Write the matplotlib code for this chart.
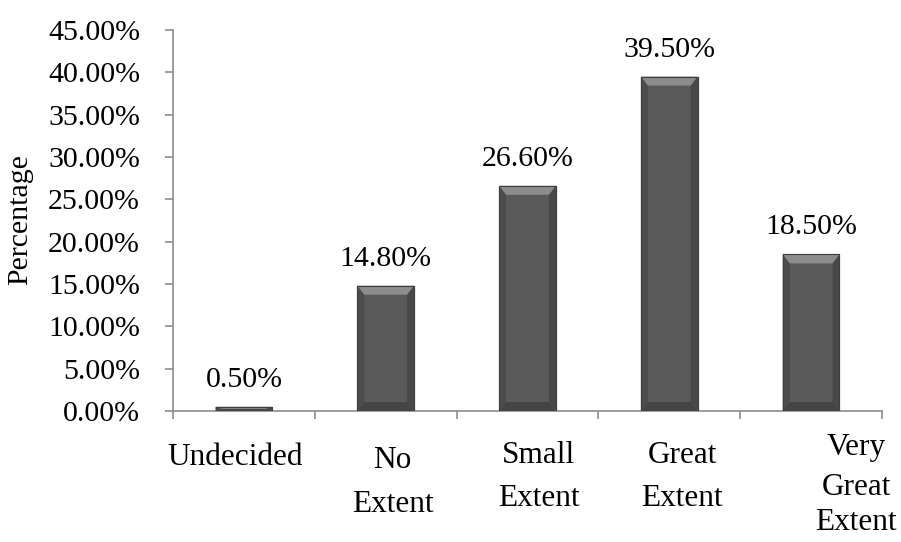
import matplotlib
matplotlib.use("Agg")
import matplotlib.pyplot as plt
import matplotlib.transforms as mtransforms
from matplotlib.patches import Polygon

categories = ["Undecided", "No\nExtent", "Small\nExtent", "Great\nExtent", "Very\nGreat\nExtent"]
values = [0.5, 14.8, 26.6, 39.5, 18.5]
value_labels = ["0.50%", "14.80%", "26.60%", "39.50%", "18.50%"]
yticks = [0, 5, 10, 15, 20, 25, 30, 35, 40, 45]
ytick_labels = ["%.2f%%" % t for t in yticks]

# label layout (pixels): horizontal shift from bar centre, baselines from top of figure
label_dx_px = [-9, 7, 11, 13, 45]
label_baselines_px = [[465], [468, 512], [463, 506], [463, 506], [455, 495, 530]]

W, H, DPI = 901, 542, 100
plt.rcParams["font.family"] = ["Liberation Serif", "DejaVu Serif"]

fig = plt.figure(figsize=(W / DPI, H / DPI), dpi=DPI)
ax = fig.add_axes([173 / W, 1 - 411 / H, (882 - 173) / W, (411 - 30) / H])

x = list(range(len(values)))
bars = ax.bar(x, values, width=0.4, color="#5a5a5a", edgecolor="#3e3e3e",
              linewidth=0.8, zorder=2)

ax.set_xlim(-0.5, len(values) - 0.5)
ax.set_ylim(0, 45)

# bevel shading on each bar
px_per_x = (882 - 173) / len(values)
px_per_y = (411 - 30) / 45.0
for b in bars:
    x0, w, h = b.get_x(), b.get_width(), b.get_height()
    x1, y1 = x0 + w, h
    dy = min(9 / px_per_y, h / 2)
    dx = min(7 / px_per_x, w / 2)
    top = Polygon([(x0, y1), (x1, y1), (x1 - dx, y1 - dy), (x0 + dx, y1 - dy)],
                  closed=True, facecolor="#8c8c8c", edgecolor="none", zorder=3)
    left = Polygon([(x0, 0), (x0, y1), (x0 + dx, y1 - dy), (x0 + dx, min(dy, h / 2))],
                   closed=True, facecolor="#4c4c4c", edgecolor="none", zorder=3)
    right = Polygon([(x1, 0), (x1, y1), (x1 - dx, y1 - dy), (x1 - dx, min(dy, h / 2))],
                    closed=True, facecolor="#484848", edgecolor="none", zorder=3)
    bottom = Polygon([(x0, 0), (x1, 0), (x1 - dx, min(dy, h / 2)), (x0 + dx, min(dy, h / 2))],
                     closed=True, facecolor="#444444", edgecolor="none", zorder=3)
    for p in (left, right, bottom, top):
        ax.add_patch(p)
    ax.add_patch(Polygon([(x0, 0), (x0, y1), (x1, y1), (x1, 0)], closed=True,
                         facecolor="none", edgecolor="#3e3e3e", linewidth=0.8, zorder=4))

# value labels above bars
for b, lab in zip(bars, value_labels):
    ax.annotate(lab, (b.get_x() + b.get_width() / 2, b.get_height()),
                xytext=(0, 20 * 72 / DPI), textcoords="offset points",
                ha="center", va="baseline", fontsize=21.5, color="black")

# axes styling
for s in ("top", "right"):
    ax.spines[s].set_visible(False)
for s in ("left", "bottom"):
    ax.spines[s].set_color("#8c8c8c")
    ax.spines[s].set_linewidth(1.2)

ax.set_yticks(yticks)
ax.set_yticklabels(ytick_labels)
ax.tick_params(axis="y", direction="out", length=8 * 72 / DPI, width=1.2,
               color="#8c8c8c", labelsize=21.5, pad=18)
ax.set_xticks([i - 0.5 for i in range(len(values) + 1)])
ax.set_xticklabels([])
ax.tick_params(axis="x", direction="out", length=8 * 72 / DPI, width=1.2,
               color="#8c8c8c")

# category labels
for i, (cat, dxp, bls) in enumerate(zip(categories, label_dx_px, label_baselines_px)):
    tr = mtransforms.blended_transform_factory(ax.transData, fig.transFigure) + \
        mtransforms.ScaledTranslation(dxp / DPI, 0, fig.dpi_scale_trans)
    for line, bl in zip(cat.split("\n"), bls):
        ax.text(i, 1 - bl / H, line, transform=tr, ha="center", va="baseline",
                fontsize=22.5, color="black", clip_on=False)

fig.text(20 / W, 1 - 220 / H, "Percentage", rotation=90, ha="center", va="center",
         fontsize=21.5, color="black")

fig.savefig("out.png", dpi=DPI)
